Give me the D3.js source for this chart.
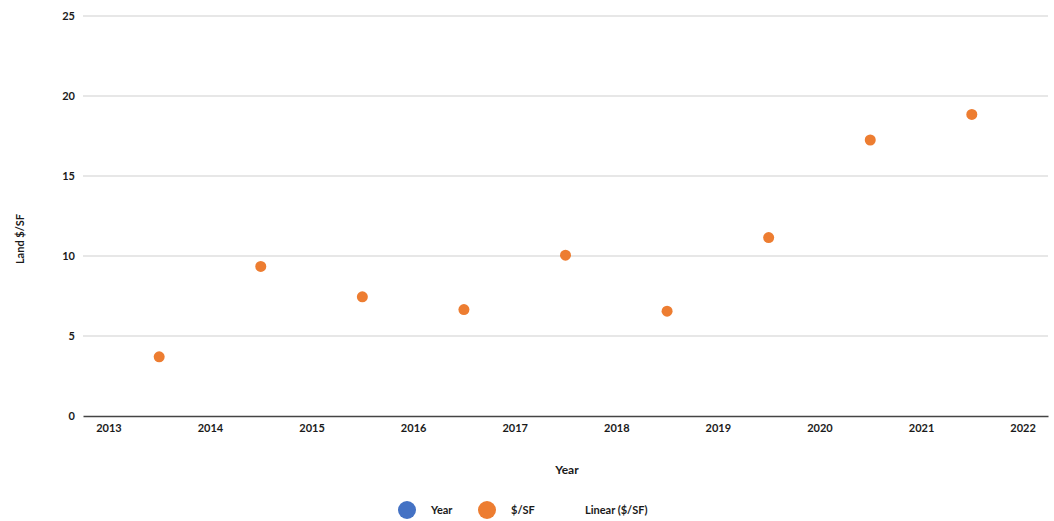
<!DOCTYPE html>
<html>
<head>
<meta charset="utf-8">
<script src="https://cdn.jsdelivr.net/npm/d3@7"></script>
<style>
  html, body { margin: 0; padding: 0; background: #fff; }
  svg { display: block; }
  text { font-family: Lato, "Open Sans", sans-serif; fill: #1a1a1a; }
</style>
</head>
<body>
<svg id="chart" width="1054" height="521"></svg>
<script>
// Land price per square foot, one value per year
const years = [2013, 2014, 2015, 2016, 2017, 2018, 2019, 2020, 2021];
const pricePerSF = [3.7, 9.35, 7.45, 6.65, 10.05, 6.55, 11.15, 17.25, 18.85];
const xTickLabels = [2013, 2014, 2015, 2016, 2017, 2018, 2019, 2020, 2021, 2022];
const yTickValues = [0, 5, 10, 15, 20, 25];
const legendItems = [
  { label: "Year", color: "#4472C4", marker: true },
  { label: "$/SF", color: "#ED7D31", marker: true },
  { label: "Linear ($/SF)", color: "#ED7D31", marker: false }
];

const svg = d3.select("#chart");
const plot = { left: 83, right: 1048, top: 16, bottom: 416 };

const x = d3.scaleLinear().domain([2012.75, 2022.25]).range([plot.left, plot.right]);
const y = d3.scaleLinear().domain([0, 25]).range([plot.bottom, plot.top]);

// horizontal gridlines
svg.append("g")
  .selectAll("line")
  .data(yTickValues.filter(v => v > 0))
  .join("line")
  .attr("x1", plot.left).attr("x2", plot.right)
  .attr("y1", d => y(d)).attr("y2", d => y(d))
  .attr("stroke", "#d0d0d0").attr("stroke-width", 1.2);

// y axis labels
const yAxis = svg.append("g")
  .attr("transform", `translate(${plot.left},0)`)
  .call(d3.axisLeft(y).tickValues(yTickValues).tickSize(0).tickPadding(8));
yAxis.select(".domain").remove();
yAxis.selectAll("text").style("font-size", "11px").style("font-weight", "700")
  .style("font-family", "Lato, sans-serif").attr("fill", "#1a1a1a");

// x axis baseline and year labels
const xAxis = svg.append("g")
  .attr("transform", `translate(0,${plot.bottom})`)
  .call(d3.axisBottom(x).tickValues(xTickLabels).tickFormat(d3.format("d")).tickSize(0).tickPadding(8));
xAxis.select(".domain").attr("stroke", "#444").attr("stroke-width", 1.5);
xAxis.selectAll("text").style("font-size", "11px").style("font-weight", "700")
  .style("font-family", "Lato, sans-serif").attr("fill", "#1a1a1a");

// data points, centred within each year
svg.append("g")
  .selectAll("circle")
  .data(years.map((yr, i) => ({ yr, v: pricePerSF[i] })))
  .join("circle")
  .attr("cx", d => x(d.yr + 0.5))
  .attr("cy", d => y(d.v))
  .attr("r", 5.5)
  .attr("fill", "#ED7D31");

// axis titles
svg.append("text")
  .attr("x", 567).attr("y", 474)
  .attr("text-anchor", "middle")
  .style("font-size", "12px").style("font-weight", "700")
  .text("Year");

svg.append("text")
  .attr("transform", "translate(24,239) rotate(-90)")
  .attr("text-anchor", "middle")
  .style("font-size", "11px").style("font-weight", "700")
  .text("Land $/SF");

// legend
const legendPos = [407, 487, 585];
const legend = svg.append("g");
legendItems.forEach((item, i) => {
  const g = legend.append("g").attr("transform", `translate(${legendPos[i]},510)`);
  if (item.marker) {
    g.append("circle").attr("r", 9).attr("fill", item.color);
    g.append("text").attr("x", 24).attr("y", 4)
      .style("font-size", "11px").style("font-weight", "700").text(item.label);
  } else {
    g.append("text").attr("x", 0).attr("y", 4)
      .style("font-size", "11px").style("font-weight", "700").text(item.label);
  }
});
</script>
</body>
</html>
